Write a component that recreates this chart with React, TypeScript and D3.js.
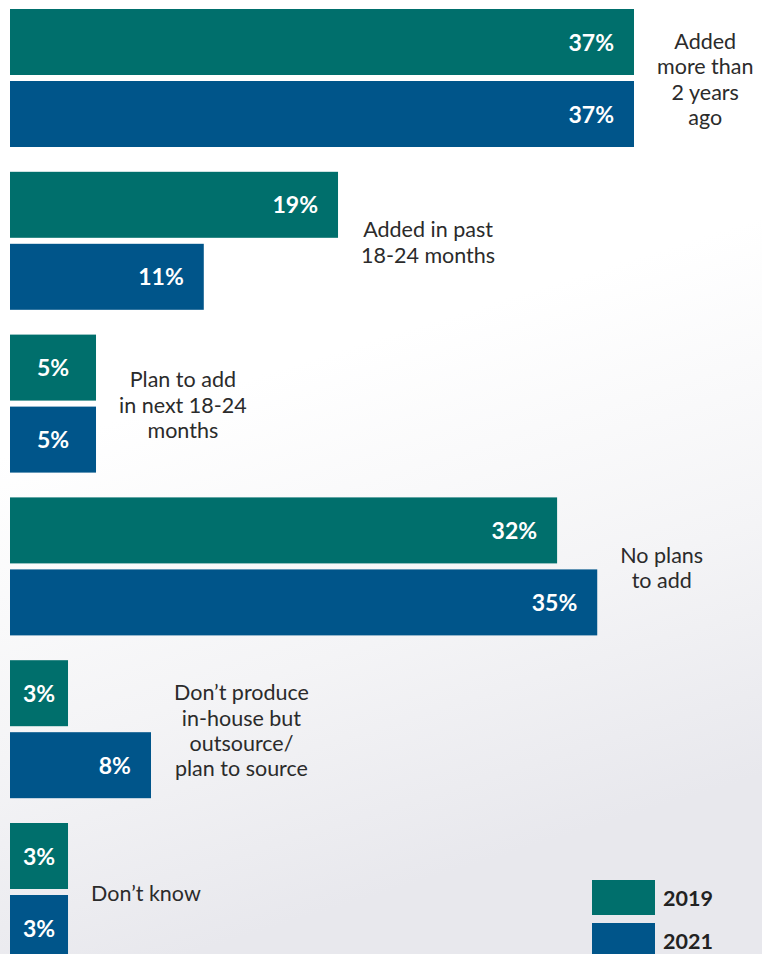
import React, { useEffect, useRef } from "react";
import * as d3 from "d3";

const categories: string[][] = [
  ["Added", "more than", "2 years", "ago"],
  ["Added in past", "18-24 months"],
  ["Plan to add", "in next 18-24", "months"],
  ["No plans", "to add"],
  ["Don\u2019t produce", "in-house but", "outsource/", "plan to source"],
  ["Don\u2019t know"],
];
const years = ["2019", "2021"];
const values2019 = [37, 19.45, 5.1, 32.44, 3.44, 3.44];
const values2021 = [37, 11.49, 5.1, 34.82, 8.36, 3.44];
const colors = ["#006f6c", "#00558a"];

const W = 762;
const H = 954;

export default function App() {
  const ref = useRef<SVGSVGElement>(null);
  useEffect(() => {
    const svg = d3.select(ref.current);
    svg.selectAll("*").remove();

    const defs = svg.append("defs");
    const g1 = defs.append("linearGradient").attr("id", "bg").attr("x1", "0").attr("y1", "0").attr("x2", "0.25").attr("y2", "1");
    g1.append("stop").attr("offset", "0").attr("stop-color", "#ffffff");
    g1.append("stop").attr("offset", "0.45").attr("stop-color", "#ffffff");
    g1.append("stop").attr("offset", "0.75").attr("stop-color", "#f4f4f6");
    g1.append("stop").attr("offset", "1").attr("stop-color", "#e8e8ed");
    svg.append("rect").attr("width", W).attr("height", H).attr("fill", "url(#bg)");

    const series = [values2019, values2021];
    const x = d3.scaleLinear().domain([0, 37]).range([10, 634]);
    const groupStep = 162.8;
    const y0 = 9;
    const barH = 66;
    const barGap = 6;

    categories.forEach((lines, i) => {
      const top = y0 + i * groupStep;
      series.forEach((vals, s) => {
        const v = vals[i];
        const yy = top + s * (barH + barGap);
        const x1 = x(v);
        svg.append("rect")
          .attr("x", x(0)).attr("y", yy)
          .attr("width", x1 - x(0)).attr("height", barH)
          .attr("fill", colors[s]);
        const w = x1 - x(0);
        const centered = w < 100;
        svg.append("text")
          .attr("x", centered ? (x(0) + x1) / 2 : x1 - 20)
          .attr("y", yy + barH / 2 + 8.5)
          .attr("text-anchor", centered ? "middle" : "end")
          .attr("font-family", "Lato, 'Open Sans', sans-serif")
          .attr("font-weight", 700)
          .attr("font-size", 23)
          .attr("fill", "#ffffff")
          .text(`${Math.round(v)}%`);
      });
      const maxRight = x(Math.max(values2019[i], values2021[i]));
      const center = top + (2 * barH + barGap) / 2;
      const lh = 25.4;
      const t = svg.append("text")
        .attr("font-family", "Lato, 'Open Sans', sans-serif")
        .attr("font-size", 21.5)
        .attr("fill", "#2b2b2b")
        .attr("text-anchor", "middle");
      lines.forEach((ln, k) => {
        t.append("tspan")
          .attr("x", 0)
          .attr("y", center + (k - (lines.length - 1) / 2) * lh + 9)
          .text(ln);
      });
      const bb = (t.node() as SVGTextElement).getBBox();
      t.attr("transform", `translate(${maxRight + 23 + bb.width / 2},0)`);
    });

    years.forEach((yr, s) => {
      const ly = 880 + s * 43;
      svg.append("rect").attr("x", 592).attr("y", ly).attr("width", 63).attr("height", 35).attr("fill", colors[s]);
      svg.append("text")
        .attr("x", 663).attr("y", ly + 26)
        .attr("font-family", "Lato, 'Open Sans', sans-serif")
        .attr("font-weight", 700)
        .attr("font-size", 21.5)
        .attr("fill", "#222222")
        .text(yr);
    });
  }, []);
  return (
    <svg ref={ref} width={W} height={H} style={{ position: "absolute", left: 0, top: 0, display: "block" }} />
  );
}
